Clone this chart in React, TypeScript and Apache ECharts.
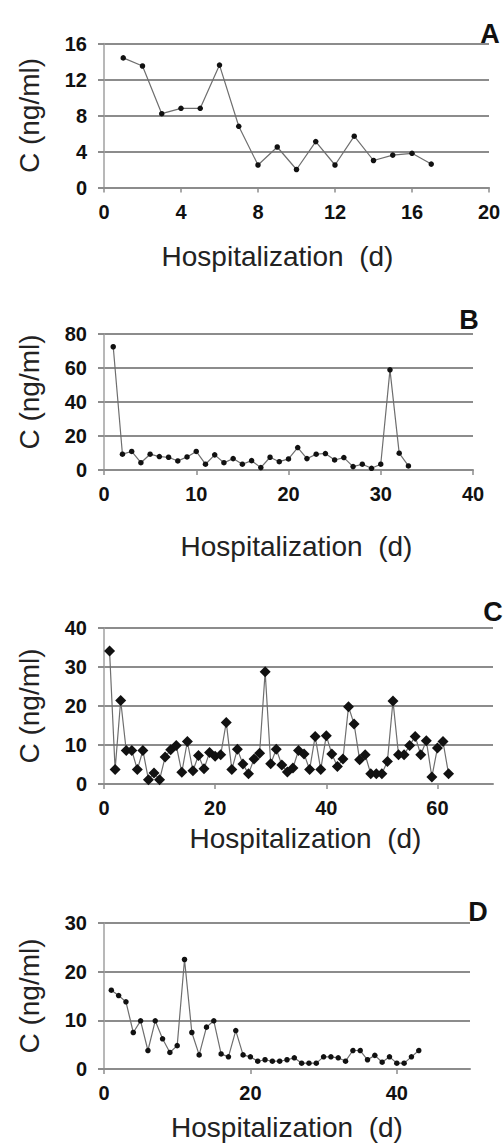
import React, { useEffect, useRef } from "react";
import * as echarts from "echarts";

// Panel A
const daysA = [1, 2, 3, 4, 5, 6, 7, 8, 9, 10, 11, 12, 13, 14, 15, 16, 17];
const concA = [14.4, 13.5, 8.2, 8.8, 8.8, 13.6, 6.8, 2.5, 4.5, 2.0, 5.1, 2.5, 5.7, 3.0, 3.6, 3.8, 2.6];

// Panel B
const daysB = [1, 2, 3, 4, 5, 6, 7, 8, 9, 10, 11, 12, 13, 14, 15, 16, 17, 18, 19, 20, 21, 22, 23, 24, 25, 26, 27, 28, 29, 30, 31, 32, 33];
const concB = [72.5, 9.3, 10.9, 4.3, 9.3, 7.9, 7.5, 5.3, 7.7, 10.9, 3.4, 8.9, 4.3, 6.7, 3.4, 5.5, 1.4, 7.5, 4.9, 6.5, 13.2, 6.7, 9.3, 9.7, 5.9, 7.3, 2.0, 3.4, 1.0, 3.4, 58.9, 9.9, 2.4];

// Panel C
const daysC = [1, 2, 3, 4, 5, 6, 7, 8, 9, 10, 11, 12, 13, 14, 15, 16, 17, 18, 19, 20, 21, 22, 23, 24, 25, 26, 27, 28, 29, 30, 31, 32, 33, 34, 35, 36, 37, 38, 39, 40, 41, 42, 43, 44, 45, 46, 47, 48, 49, 50, 51, 52, 53, 54, 55, 56, 57, 58, 59, 60, 61, 62];
const concC = [34.1, 3.7, 21.4, 8.6, 8.6, 3.7, 8.6, 1.1, 2.8, 1.1, 6.9, 8.8, 9.9, 3.0, 10.9, 3.4, 7.3, 3.9, 8.1, 7.1, 7.5, 15.8, 3.7, 8.9, 5.1, 2.6, 6.4, 7.9, 28.8, 5.2, 8.9, 4.9, 3.1, 4.1, 8.6, 7.7, 3.7, 12.2, 3.7, 12.4, 7.7, 4.5, 6.4, 19.8, 15.4, 6.2, 7.5, 2.6, 2.6, 2.6, 5.8, 21.3, 7.5, 7.5, 9.9, 12.2, 7.5, 11.1, 1.8, 9.2, 10.9, 2.6];

// Panel D
const daysD = [1, 2, 3, 4, 5, 6, 7, 8, 9, 10, 11, 12, 13, 14, 15, 16, 17, 18, 19, 20, 21, 22, 23, 24, 25, 26, 27, 28, 29, 30, 31, 32, 33, 34, 35, 36, 37, 38, 39, 40, 41, 42, 43];
const concD = [16.2, 15.1, 13.8, 7.5, 9.9, 3.8, 9.9, 6.2, 3.4, 4.8, 22.5, 7.5, 2.9, 8.6, 9.9, 3.1, 2.5, 7.9, 2.9, 2.5, 1.6, 1.9, 1.6, 1.6, 1.9, 2.3, 1.2, 1.2, 1.2, 2.5, 2.5, 2.3, 1.6, 3.8, 3.8, 1.9, 2.8, 1.4, 2.5, 1.2, 1.2, 2.5, 3.8];

const panelLetters = ["A", "B", "C", "D"];
const xTitle = "Hospitalization  (d)";
const yTitle = "C (ng/ml)";

const FONT = "'Liberation Sans', Arial, sans-serif";
const GRID_COLOR = "#8c8c8c";

export default function App() {
  const ref = useRef<HTMLDivElement>(null);

  useEffect(() => {
    if (!ref.current) return;
    const chart = echarts.init(ref.current, null, { renderer: "svg" });

    const grids = [
      { left: 104, top: 43.5, width: 385, height: 144 },
      { left: 104, top: 334, width: 369, height: 136 },
      { left: 104, top: 628, width: 389, height: 156 },
      { left: 104, top: 923, width: 366, height: 146 },
    ];
    const xCfg = [
      { max: 20, interval: 4, gap: 55, pad: [0, 38, 0, 0] },
      { max: 40, interval: 10, gap: 62, pad: [0, 0, 0, 16] },
      { max: 70, interval: 20, gap: 40, pad: [0, 0, 0, 14] },
      { max: 50, interval: 20, gap: 44, pad: [0, 0, 0, 0] },
    ];
    const yCfg = [
      { max: 16, interval: 4, pad: [0, 0, 0, 0] },
      { max: 80, interval: 20, pad: [0, 0, 0, 20] },
      { max: 40, interval: 10, pad: [0, 0, 0, 0] },
      { max: 30, interval: 10, pad: [0, 0, 0, 0] },
    ];
    const data = [
      daysA.map((d, i) => [d, concA[i]]),
      daysB.map((d, i) => [d, concB[i]]),
      daysC.map((d, i) => [d, concC[i]]),
      daysD.map((d, i) => [d, concD[i]]),
    ];
    const letterPos = [
      { x: 490, y: 33.5 },
      { x: 469, y: 320 },
      { x: 493, y: 612 },
      { x: 478, y: 911.5 },
    ];

    const labelStyle = {
      color: "#111",
      fontSize: 20,
      fontWeight: "bold" as const,
      fontFamily: FONT,
    };

    const option: any = {
      animation: false,
      backgroundColor: "#ffffff",
      grid: grids,
      xAxis: xCfg.map((c, i) => ({
        type: "value",
        gridIndex: i,
        min: 0,
        max: c.max,
        interval: c.interval,
        name: xTitle,
        nameLocation: "middle",
        nameGap: c.gap,
        nameTextStyle: { fontSize: 28, color: "#222", fontFamily: FONT, padding: c.pad },
        axisLine: { show: true, lineStyle: { color: GRID_COLOR, width: 2 } },
        axisTick: { show: true, length: 5, lineStyle: { color: GRID_COLOR, width: 1.5 } },
        axisLabel: { ...labelStyle, margin: 14, showMaxLabel: c.max % c.interval === 0 },
        splitLine: { show: false },
      })),
      yAxis: yCfg.map((c, i) => ({
        type: "value",
        gridIndex: i,
        min: 0,
        max: c.max,
        interval: c.interval,
        name: yTitle,
        nameLocation: "middle",
        nameGap: 61,
        nameTextStyle: { fontSize: 28, color: "#222", fontFamily: FONT, padding: c.pad },
        axisLine: { show: true, lineStyle: { color: "#a0a0a0", width: 1.5 } },
        axisTick: { show: true, length: 6, lineStyle: { color: GRID_COLOR, width: 2 } },
        axisLabel: { ...labelStyle, margin: 17 },
        splitLine: { show: true, lineStyle: { color: GRID_COLOR, width: 2 } },
      })),
      series: data.map((d, i) => ({
        type: "line",
        xAxisIndex: i,
        yAxisIndex: i,
        data: d,
        symbol: i === 2 ? "diamond" : "circle",
        symbolSize: i === 2 ? 11 : 5.5,
        showSymbol: true,
        lineStyle: { color: "#6e6e6e", width: 1.2 },
        itemStyle: { color: "#111" },
        z: 5,
      })),
      graphic: panelLetters.map((t, i) => ({
        type: "text",
        x: letterPos[i].x,
        y: letterPos[i].y,
        style: {
          text: t,
          fontSize: 27,
          fontWeight: "bold",
          fontFamily: FONT,
          fill: "#111",
          textAlign: "center",
          textVerticalAlign: "middle",
        },
      })),
    };

    chart.setOption(option);
    return () => chart.dispose();
  }, []);

  return (
    <div
      ref={ref}
      style={{ position: "absolute", left: 0, top: 0, width: 504, height: 1144, background: "#fff" }}
    />
  );
}
